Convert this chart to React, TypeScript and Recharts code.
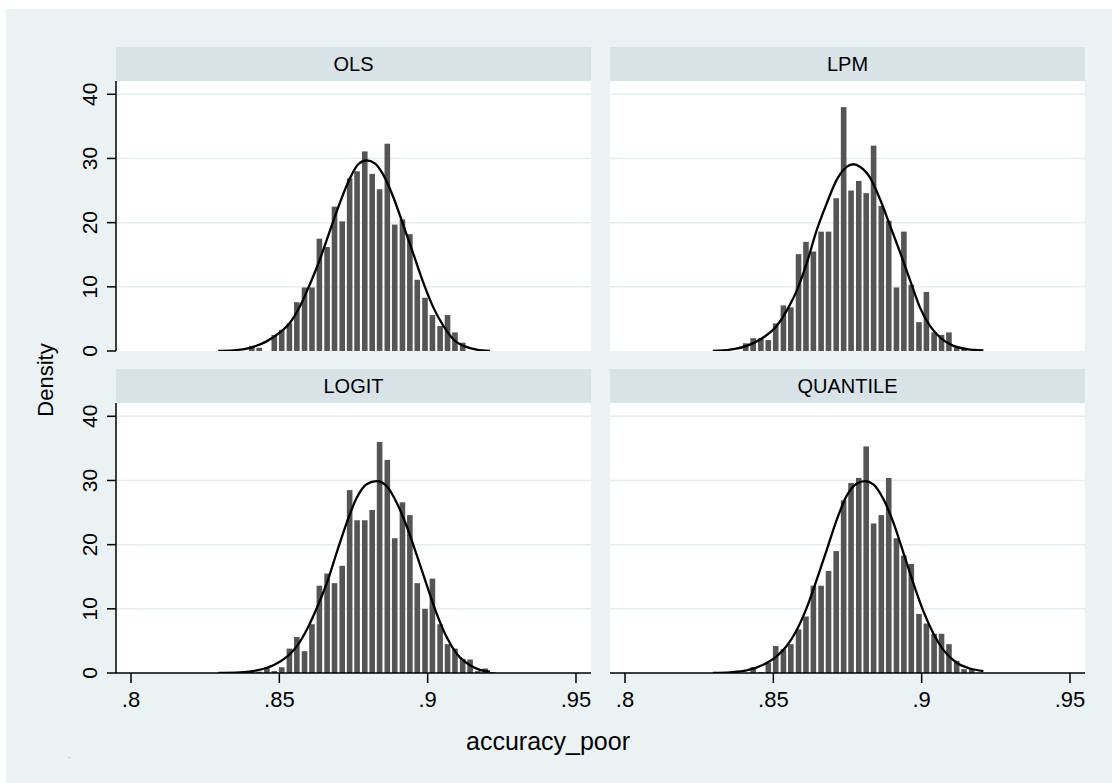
import React from 'react';
import { ComposedChart, Bar, Line, XAxis, YAxis, CartesianGrid } from 'recharts';

// bin centres (shared by all four panels)
const BIN_X = [
  0.8407, 0.8432, 0.8458, 0.8483, 0.8508, 0.8534, 0.8559, 0.8585, 0.861, 0.8635, 0.8661,
  0.8686, 0.8712, 0.8737, 0.8762, 0.8788, 0.8813, 0.8838, 0.8864, 0.8889, 0.8915, 0.894,
  0.8965, 0.8991, 0.9016, 0.9042, 0.9067, 0.9092, 0.9118, 0.9143, 0.9169, 0.9194, 0.9219,
];

// histogram densities per panel
const OLS_BARS = [0.8, 0.5, 0, 2.5, 3.3, 4.3, 7.6, 9.9, 9.9, 17.5, 16.2, 22.5, 20.2, 26.9, 28.0, 31.1, 27.6, 25.2, 32.3, 19.7, 20.5, 18.2, 11.1, 8.3, 5.6, 3.9, 5.6, 2.9, 1.3, 0, 0, 0, 0];
const LPM_BARS = [1.2, 2.0, 2.0, 1.7, 4.3, 7.1, 6.8, 15.1, 17.0, 15.5, 18.6, 18.6, 23.8, 38.0, 25.0, 26.5, 24.6, 32.0, 22.6, 20.3, 9.9, 18.6, 10.3, 4.5, 9.2, 2.9, 2.5, 2.9, 0.5, 0.4, 0, 0, 0];
const LOGIT_BARS = [0.2, 0.2, 0.9, 0.3, 0.9, 3.8, 5.6, 3.4, 7.6, 13.6, 15.5, 14.0, 16.7, 28.5, 23.8, 23.8, 25.4, 36.0, 33.2, 21.0, 26.6, 24.6, 14.0, 10.0, 14.7, 7.6, 4.5, 3.8, 2.2, 2.1, 0.3, 0.7, 0.15];
const QUANTILE_BARS = [0, 0.9, 0.15, 1.6, 4.2, 3.7, 4.5, 6.8, 8.8, 13.6, 13.6, 15.9, 19.0, 26.9, 29.6, 30.4, 35.3, 23.3, 24.6, 30.4, 21.0, 18.3, 17.0, 9.2, 7.7, 6.1, 6.1, 4.5, 1.9, 0.6, 0.6, 0, 0];

// normal density overlays
const OLS_CURVE_X = [0.8294, 0.8345, 0.8401, 0.8457, 0.8502, 0.8536, 0.857, 0.8603, 0.8637, 0.8671, 0.8705, 0.8738, 0.8766, 0.8794, 0.8823, 0.8851, 0.8884, 0.8918, 0.8952, 0.8985, 0.9019, 0.9053, 0.9087, 0.9132, 0.9165, 0.921];
const OLS_CURVE_Y = [0, 0.1, 0.5, 1.5, 2.9, 4.4, 7.0, 10.4, 14.3, 18.8, 23.2, 26.9, 29.1, 29.7, 29.2, 27.4, 24.0, 19.6, 15.1, 10.7, 6.8, 3.9, 1.8, 0.6, 0.2, 0];
const LPM_CURVE_X = [0.8296, 0.8354, 0.841, 0.8466, 0.8511, 0.8545, 0.8579, 0.8612, 0.8646, 0.868, 0.8714, 0.8747, 0.877, 0.8792, 0.8826, 0.886, 0.8893, 0.8927, 0.8961, 0.8994, 0.9028, 0.9062, 0.9107, 0.9152, 0.9208];
const LPM_CURVE_Y = [0, 0.2, 0.8, 2.1, 3.9, 6.3, 9.4, 13.6, 18.8, 23.0, 26.7, 28.7, 29.1, 28.7, 27.0, 23.6, 19.6, 15.4, 11.0, 6.8, 3.9, 2.1, 0.8, 0.3, 0.1];
const LOGIT_CURVE_X = [0.8294, 0.8367, 0.8424, 0.848, 0.8525, 0.8558, 0.8592, 0.8626, 0.866, 0.8693, 0.8727, 0.8761, 0.8794, 0.8828, 0.8862, 0.8896, 0.8929, 0.8963, 0.8997, 0.903, 0.9064, 0.9098, 0.9143, 0.9176, 0.921];
const LOGIT_CURVE_Y = [0, 0.1, 0.4, 1.2, 2.5, 4.1, 6.7, 10.1, 14.0, 18.7, 23.4, 27.3, 29.4, 29.9, 29.1, 26.5, 22.9, 18.4, 13.7, 9.3, 5.6, 3.0, 1.2, 0.5, 0.2];
const QUANTILE_CURVE_X = [0.8296, 0.8354, 0.841, 0.8466, 0.8511, 0.8545, 0.8579, 0.8612, 0.8646, 0.868, 0.8714, 0.8747, 0.8781, 0.8809, 0.8837, 0.8871, 0.8905, 0.8938, 0.8972, 0.9006, 0.9039, 0.9073, 0.9118, 0.9163, 0.9208];
const QUANTILE_CURVE_Y = [0, 0.1, 0.4, 1.3, 2.6, 4.2, 6.7, 10.1, 14.5, 19.2, 23.9, 27.6, 29.5, 29.9, 29.4, 27.1, 23.4, 18.8, 14.0, 9.6, 6.2, 3.6, 1.6, 0.7, 0.3];

const X_TICKS = [0.8, 0.85, 0.9, 0.95];
const X_TICK_LABELS = ['.8', '.85', '.9', '.95'];
const Y_TICKS = [0, 10, 20, 30, 40];
const GRID_Y = [10, 20, 30, 40];

const FONT = '"Liberation Sans", Arial, Helvetica, sans-serif';
const BG = '#eaf2f3';
const STRIP = '#d8e3e8';
const BAR = '#555555';
const BAR_W = 5.6;

const PLOT_W = 475;
const PLOT_H = 270;
const Y_AXIS_W = 80;
const X_AXIS_H = 60;

const panels = [
  { title: 'OLS', bars: OLS_BARS, cx: OLS_CURVE_X, cy: OLS_CURVE_Y, left: 116, top: 81, showY: true, showX: false },
  { title: 'LPM', bars: LPM_BARS, cx: LPM_CURVE_X, cy: LPM_CURVE_Y, left: 610, top: 81, showY: false, showX: false },
  { title: 'LOGIT', bars: LOGIT_BARS, cx: LOGIT_CURVE_X, cy: LOGIT_CURVE_Y, left: 116, top: 403, showY: true, showX: true },
  { title: 'QUANTILE', bars: QUANTILE_BARS, cx: QUANTILE_CURVE_X, cy: QUANTILE_CURVE_Y, left: 610, top: 403, showY: false, showX: true },
];

const YTick = (props: any) => {
  const { x, y, payload } = props;
  const bx = x - 10;
  return (
    <text x={bx} y={y} transform={`rotate(-90 ${bx} ${y})`} textAnchor="middle" fill="#000" fontSize={21} fontFamily={FONT}>
      {payload.value}
    </text>
  );
};

// the band is squeezed by the curve's x values, so draw each bar at a fixed width around its centre
const HistBar = (props: any) => {
  const { x, y, width, height } = props;
  if (!height || height <= 0) return null;
  const c = x + width / 2;
  return <rect x={c - BAR_W / 2} y={y} width={BAR_W} height={height} fill={BAR} />;
};

function Panel({ p }: { p: (typeof panels)[number] }) {
  const data = BIN_X.map((x, i) => ({ x, d: p.bars[i] }));
  const curve = p.cx.map((x, i) => ({ x, y: p.cy[i] }));
  const svgLeft = p.left - Y_AXIS_W;
  return (
    <>
      <div
        style={{
          position: 'absolute', left: p.left, top: p.top - 34, width: PLOT_W, height: 34, background: STRIP,
          display: 'flex', alignItems: 'center', justifyContent: 'center', fontFamily: FONT, fontSize: 20, color: '#000',
        }}
      >
        {p.title}
      </div>
      <div style={{ position: 'absolute', left: svgLeft, top: p.top }}>
        <ComposedChart
          width={Y_AXIS_W + PLOT_W + 10}
          height={PLOT_H + X_AXIS_H}
          data={data}
          margin={{ top: 0, right: 10, bottom: p.showX ? 0 : X_AXIS_H, left: p.showY ? 0 : Y_AXIS_W }}
        >
          <CartesianGrid vertical={false} horizontalValues={GRID_Y} stroke="#e3edf0" strokeWidth={1.5} fill="#ffffff" fillOpacity={1} />
          <XAxis
            type="number"
            dataKey="x"
            domain={[0.79494, 0.95506]}
            allowDataOverflow
            ticks={X_TICKS}
            tickFormatter={(v: number) => X_TICK_LABELS[X_TICKS.indexOf(v)] ?? ''}
            hide={!p.showX}
            height={X_AXIS_H}
            tickSize={10}
            tickMargin={8}
            stroke="#000"
            tick={{ fill: '#000', fontSize: 22, fontFamily: FONT }}
            axisLine={{ stroke: '#000', strokeWidth: 1.5 }}
            tickLine={{ stroke: '#000', strokeWidth: 1.5 }}
          />
          <YAxis
            type="number"
            domain={[0, 42.07]}
            allowDataOverflow
            ticks={Y_TICKS}
            hide={!p.showY}
            width={Y_AXIS_W}
            tickSize={9}
            tickMargin={0}
            tick={<YTick />}
            axisLine={{ stroke: '#000', strokeWidth: 1.5 }}
            tickLine={{ stroke: '#000', strokeWidth: 1.5 }}
          />
          <Bar dataKey="d" fill={BAR} shape={<HistBar />} isAnimationActive={false} />
          <Line data={curve} dataKey="y" type="monotone" stroke="#000" strokeWidth={2.3} dot={false} activeDot={false} isAnimationActive={false} />
        </ComposedChart>
      </div>
    </>
  );
}

export default function App() {
  return (
    <div style={{ position: 'absolute', left: 0, top: 0, width: 1112, height: 783, background: '#fff', overflow: 'hidden' }}>
      <div style={{ position: 'absolute', left: 6, top: 9, width: 1106, height: 774, background: BG }} />
      {panels.map((p) => (
        <Panel key={p.title} p={p} />
      ))}
      <div
        style={{
          position: 'absolute', left: 46, top: 380, transform: 'translate(-50%, -50%) rotate(-90deg)',
          fontFamily: FONT, fontSize: 22, color: '#000', whiteSpace: 'nowrap',
        }}
      >
        Density
      </div>
      <div
        style={{
          position: 'absolute', left: 548, top: 741, transform: 'translate(-50%, -50%)',
          fontFamily: FONT, fontSize: 25, color: '#000', whiteSpace: 'nowrap',
        }}
      >
        accuracy_poor
      </div>
      <div style={{ position: 'absolute', left: 68, top: 750, fontFamily: FONT, fontSize: 9, color: '#999' }}>.</div>
    </div>
  );
}
